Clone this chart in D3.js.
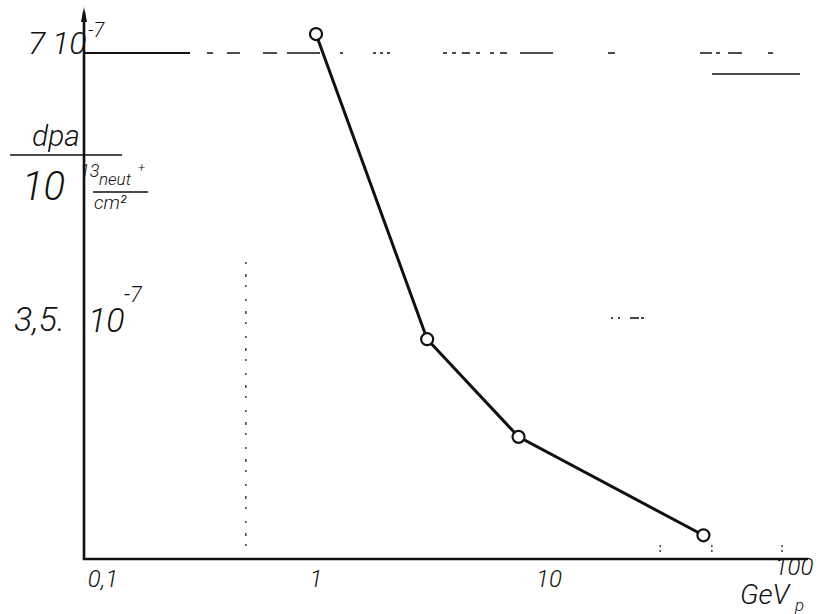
<!DOCTYPE html>
<html>
<head>
<meta charset="utf-8">
<script src="https://cdn.jsdelivr.net/npm/d3@7"></script>
<style>
  body { margin: 0; background: #fff; }
  svg text { font-family: Roboto, "DejaVu Sans", sans-serif; font-style: italic; font-weight: 300; fill: #111; }
</style>
</head>
<body>
<svg id="chart" width="834" height="614"></svg>
<script>
// data
const energy = [1, 3, 7.4, 46];            // GeV (proton)
const dpa = [7.25, 3.22, 1.93, 0.63];      // x 1e-7 dpa per 1e13 neut/cm2
const xTickLabels = [
  { v: 0.1, t: "0,1" },
  { v: 1, t: "1" },
  { v: 10, t: "10" }
];
const xMinorTicks = [30, 50, 100];

const svg = d3.select("#chart");

const x = d3.scaleLog().domain([0.1, 100]).range([83, 782]);
const y = d3.scaleLinear().domain([0, 7]).range([583, 53]);

const axisY = 559;   // where the x-axis sits
const axisX = x(0.1) + 1;

// reference lines (dashed, hand ruled)
svg.append("line")
  .attr("x1", axisX).attr("x2", 190)
  .attr("y1", y(7)).attr("y2", y(7))
  .attr("stroke", "#111").attr("stroke-width", 2);
// the broken continuation of the 7e-7 line
svg.append("line")
  .attr("x1", 207).attr("x2", 775)
  .attr("y1", y(7)).attr("y2", y(7))
  .attr("stroke", "#111").attr("stroke-width", 1.6)
  .attr("stroke-dasharray", "6 14 13 23 14 10 33 20 3 30 3 4 3 4 3 53 4 5 4 6 8 6 4 10 4 6 7 13 33 55 7 85 12 4 4 8 14 26 5 300");
svg.append("line")
  .attr("x1", 712).attr("x2", 800)
  .attr("y1", 74).attr("y2", 74)
  .attr("stroke", "#111").attr("stroke-width", 1.5);
svg.append("line")
  .attr("x1", 611).attr("x2", 660)
  .attr("y1", y(3.5)).attr("y2", y(3.5))
  .attr("stroke", "#111").attr("stroke-width", 1.3)
  .attr("stroke-dasharray", "2 5 2 10 9 2 3 23 2 40");
svg.append("line")
  .attr("x1", x(0.5)).attr("x2", x(0.5))
  .attr("y1", 262).attr("y2", axisY)
  .attr("stroke", "#111").attr("stroke-width", 1.2)
  .attr("stroke-dasharray", "2 10 3 8 2 12");

// small ticks near the x-axis
svg.selectAll(".mtick")
  .data(xMinorTicks)
  .enter().append("line")
  .attr("class", "mtick")
  .attr("x1", d => x(d)).attr("x2", d => x(d))
  .attr("y1", axisY - 14).attr("y2", axisY - 6)
  .attr("stroke", "#111").attr("stroke-width", 1.2)
  .attr("stroke-dasharray", "2 3");

// axes
svg.append("line")
  .attr("x1", axisX).attr("x2", axisX)
  .attr("y1", 12).attr("y2", axisY + 1)
  .attr("stroke", "#111").attr("stroke-width", 2.6);
svg.append("path")
  .attr("d", `M${axisX - 3},22 L${axisX},7 L${axisX + 3},22 Z`)
  .attr("fill", "#111");
svg.append("line")
  .attr("x1", axisX - 1).attr("x2", 808)
  .attr("y1", axisY).attr("y2", axisY)
  .attr("stroke", "#111").attr("stroke-width", 2.6);

// x tick labels
svg.selectAll(".xlab")
  .data(xTickLabels)
  .enter().append("text")
  .attr("class", "xlab")
  .attr("x", d => x(d.v) + (d.v === 0.1 ? 20 : 0))
  .attr("y", 587)
  .attr("text-anchor", "middle")
  .attr("font-size", 24)
  .text(d => d.t);
svg.append("text").attr("x", x(100) + 12).attr("y", 575)
  .attr("text-anchor", "middle").attr("font-size", 24).text("100");
svg.append("text").attr("x", 740).attr("y", 604)
  .attr("font-size", 28).text("GeV");
svg.append("text").attr("x", 795).attr("y", 611)
  .attr("font-size", 17).text("p");

// y labels
svg.append("text").attr("x", 28).attr("y", 54).attr("font-size", 32).text("7");
svg.append("text").attr("x", 52).attr("y", 54).attr("font-size", 32).text("10");
svg.append("text").attr("x", 88).attr("y", 37).attr("font-size", 20).attr("font-weight", 400).text("-7");
svg.append("text").attr("x", 14).attr("y", 331).attr("font-size", 34).text("3,5.");
svg.append("text").attr("x", 88).attr("y", 332).attr("font-size", 34).text("10");
svg.append("text").attr("x", 124).attr("y", 302).attr("font-size", 22).attr("font-weight", 400).text("-7");

// unit: dpa / (10^13 neut/cm2)
svg.append("text").attr("x", 32).attr("y", 146).attr("font-size", 30).text("dpa");
svg.append("line").attr("x1", 10).attr("x2", 122).attr("y1", 155).attr("y2", 155)
  .attr("stroke", "#111").attr("stroke-width", 1.6);
svg.append("text").attr("x", 22).attr("y", 200).attr("font-size", 40).text("10");
svg.append("text").attr("x", 80).attr("y", 177).attr("font-size", 18).text("13");
svg.append("text").attr("x", 99).attr("y", 185).attr("font-size", 17).text("neut");
svg.append("text").attr("x", 138).attr("y", 172).attr("font-size", 13).text("+");
svg.append("line").attr("x1", 93).attr("x2", 148).attr("y1", 192).attr("y2", 192)
  .attr("stroke", "#111").attr("stroke-width", 1.4);
svg.append("text").attr("x", 94).attr("y", 209).attr("font-size", 19).text("cm²");

// data line + markers
const line = d3.line()
  .x((d, i) => x(energy[i]))
  .y(d => y(d));

svg.append("path")
  .datum(dpa)
  .attr("d", line)
  .attr("fill", "none")
  .attr("stroke", "#111")
  .attr("stroke-width", 3);

svg.selectAll(".pt")
  .data(dpa)
  .enter().append("circle")
  .attr("class", "pt")
  .attr("cx", (d, i) => x(energy[i]))
  .attr("cy", d => y(d))
  .attr("r", 6)
  .attr("fill", "#fff")
  .attr("stroke", "#111")
  .attr("stroke-width", 2.2);
</script>
</body>
</html>
